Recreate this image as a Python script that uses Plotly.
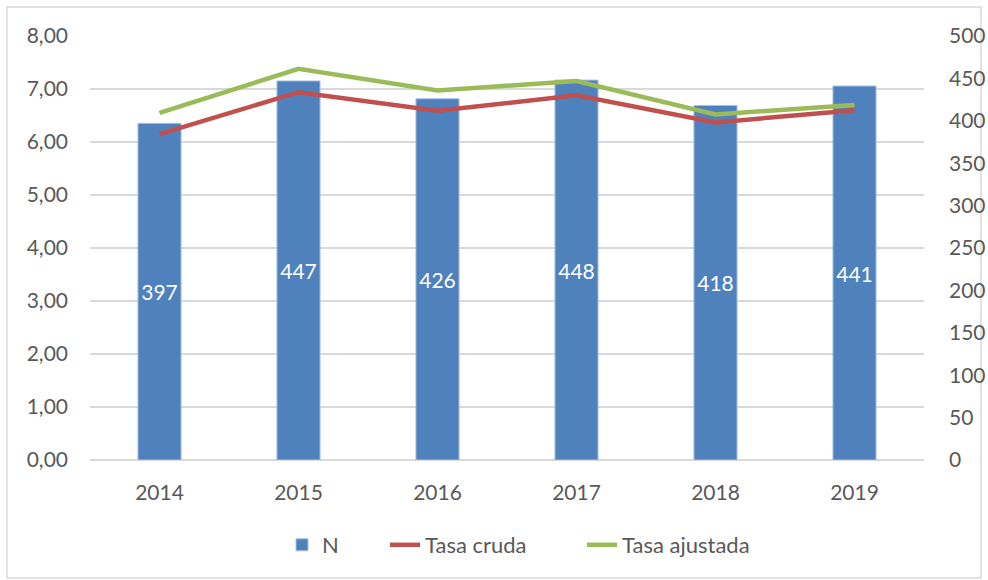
import plotly.graph_objects as go

years = ["2014", "2015", "2016", "2017", "2018", "2019"]
n_values = [397, 447, 426, 448, 418, 441]
tasa_cruda = [6.15, 6.94, 6.59, 6.88, 6.37, 6.60]
tasa_ajustada = [6.55, 7.38, 6.97, 7.15, 6.52, 6.70]

font_family = "Lato, 'Open Sans', sans-serif"
grey_text = "#595959"
fs = 21

L, R, T, B = 90, 64, 36, 120
PW = 988 - L - R
PH = 580 - T - B


def px_x(p):
    return (p - L) / PW


def px_y(p):
    return (580 - B - p) / PH


fig = go.Figure()
fig.add_trace(go.Bar(
    x=years, y=n_values, name="N", yaxis="y", legend="legend",
    marker=dict(color="#4f81bd", line=dict(color="#a9c0de", width=1)),
    text=[str(v) for v in n_values], textposition="inside",
    insidetextanchor="middle", textangle=0,
    textfont=dict(color="white", size=fs, family=font_family),
))
fig.add_trace(go.Scatter(
    x=years, y=tasa_cruda, name="Tasa cruda", yaxis="y2", mode="lines", legend="legend2",
    line=dict(color="#c0504d", width=4.5),
))
fig.add_trace(go.Scatter(
    x=years, y=tasa_ajustada, name="Tasa ajustada", yaxis="y2", mode="lines", legend="legend3",
    line=dict(color="#9bbb59", width=4.5),
))

leg_common = dict(orientation="h", xanchor="left", yanchor="middle", y=px_y(545),
                  font=dict(size=22, color=grey_text), bgcolor="rgba(0,0,0,0)")

fig.update_layout(
    width=988, height=580,
    margin=dict(l=L, r=R, t=T, b=B, autoexpand=False),
    paper_bgcolor="white", plot_bgcolor="white",
    separators=",.",
    font=dict(family=font_family, size=fs, color=grey_text),
    bargap=0.69,
    showlegend=True,
    legend=dict(x=px_x(282), **leg_common),
    legend2=dict(x=px_x(385), **leg_common),
    legend3=dict(x=px_x(582), **leg_common),
    xaxis=dict(showgrid=False, showline=False, ticks="", ticklabelstandoff=18, automargin=False,
               tickfont=dict(size=fs, color=grey_text)),
    yaxis=dict(side="right", range=[0, 500], dtick=50, showgrid=False, zeroline=False,
               showline=False, ticks="", ticklabelstandoff=24, automargin=False,
               tickfont=dict(size=fs, color=grey_text)),
    yaxis2=dict(side="left", overlaying="y", range=[0, 8], dtick=1, tickformat=".2f",
                showgrid=True, gridcolor="#d9d9d9", gridwidth=1.5,
                zeroline=True, zerolinecolor="#d9d9d9", zerolinewidth=1.5,
                showline=False, ticks="", ticklabelstandoff=21, automargin=False,
                tickfont=dict(size=fs, color=grey_text)),
    shapes=[dict(type="rect", xref="paper", yref="paper",
                 x0=px_x(7), x1=px_x(981),
                 y0=px_y(578), y1=px_y(7),
                 line=dict(color="#d9d9d9", width=1.5), fillcolor="rgba(0,0,0,0)", layer="below")],
)

fig.write_html("out.html", config={"displayModeBar": False},
               post_script="document.body.style.margin='0';")
